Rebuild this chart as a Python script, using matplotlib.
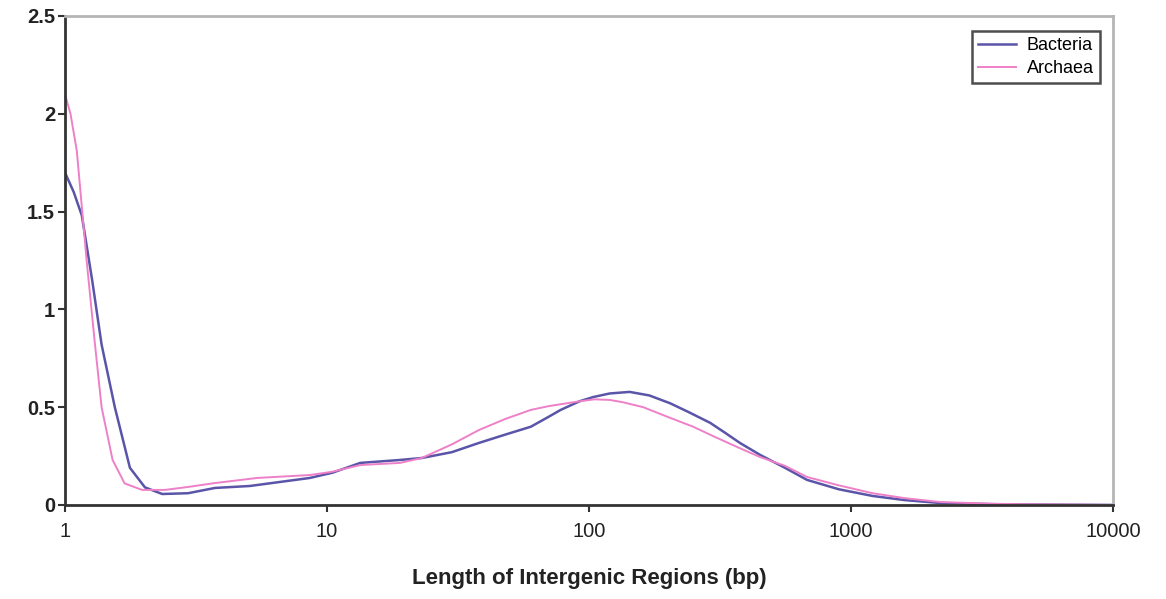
import matplotlib.pyplot as plt
import numpy as np

plt.rcParams['font.family'] = ['Liberation Sans', 'DejaVu Sans']

# Dados
bact_x = [1.0, 1.08, 1.16, 1.27, 1.38, 1.55, 1.77, 2.02, 2.35, 2.95, 3.74, 5.08,
          8.6, 10.5, 13.4, 19, 23, 30, 38, 48, 60, 70, 78, 92, 104, 120, 143,
          170, 204, 240, 290, 330, 377, 450, 560, 680, 900, 1210, 1600, 2190,
          3500, 5000, 10000]
bact_y = [1.70, 1.60, 1.48, 1.15, 0.82, 0.50, 0.19, 0.09, 0.056, 0.06, 0.087,
          0.097, 0.138, 0.165, 0.215, 0.23, 0.24, 0.27, 0.317, 0.36, 0.40, 0.45,
          0.486, 0.53, 0.552, 0.57, 0.578, 0.56, 0.52, 0.475, 0.42, 0.37,
          0.317, 0.256, 0.19, 0.128, 0.08, 0.046, 0.025, 0.01, 0.004, 0.002, 0.0]

arch_x = [1.0, 1.05, 1.11, 1.21, 1.30, 1.38, 1.52, 1.69, 1.97, 2.41, 2.95, 3.74,
          5.41, 8.6, 10.5, 13.4, 19, 23, 30, 38, 48, 60, 70, 78, 92, 105, 120,
          135, 161, 200, 250, 300, 377, 450, 560, 680, 900, 1210, 1600, 2190,
          3500, 5000, 10000]
arch_y = [2.10, 2.00, 1.81, 1.25, 0.83, 0.50, 0.23, 0.11, 0.077, 0.077, 0.092,
          0.112, 0.138, 0.153, 0.17, 0.204, 0.215, 0.24, 0.31, 0.383, 0.44,
          0.486, 0.505, 0.515, 0.53, 0.54, 0.537, 0.525, 0.50, 0.45, 0.40, 0.35,
          0.29, 0.245, 0.20, 0.143, 0.10, 0.06, 0.035, 0.015, 0.006, 0.003, 0.0]

y_ticks = [0, 0.5, 1, 1.5, 2, 2.5]
y_labels = ['0', '0.5', '1', '1.5', '2', '2.5']
x_ticks = [1, 10, 100, 1000, 10000]
x_labels = ['1', '10', '100', '1000', '10000']

fig = plt.figure(figsize=(11.66, 5.99), dpi=100)
ax = fig.add_axes([0.0557, 0.157, 0.8988, 0.8163])

ax.plot(bact_x, bact_y, color='#5a55a8', lw=1.8, label='Bacteria')
ax.plot(arch_x, arch_y, color='#ee80c8', lw=1.4, label='Archaea')

ax.set_xscale('log')
ax.set_xlim(1, 10000)
ax.set_ylim(0, 2.5)
ax.set_xticks(x_ticks)
ax.set_xticklabels(x_labels, fontsize=14.5, color='#222222')
ax.xaxis.set_minor_locator(plt.NullLocator())
ax.set_yticks(y_ticks)
ax.set_yticklabels(y_labels, fontsize=14.5, color='#222222', fontweight='bold')
ax.tick_params(axis='both', direction='out', length=5, width=1.5, color='#333333')
ax.tick_params(axis='x', pad=7)
ax.tick_params(axis='y', pad=2)

for s in ['left', 'bottom']:
    ax.spines[s].set_color('#333333')
    ax.spines[s].set_linewidth(2)
for s in ['top', 'right']:
    ax.spines[s].set_color('#b5b5b5')
    ax.spines[s].set_linewidth(2)

ax.set_xlabel('Length of Intergenic Regions (bp)', fontsize=16,
              fontweight='bold', color='#222222', labelpad=20)

leg = ax.legend(loc='upper right', bbox_to_anchor=(0.9434, 0.948),
                bbox_transform=fig.transFigure, borderaxespad=0,
                fancybox=False, fontsize=13, handlelength=2.1,
                handletextpad=0.6, borderpad=0.35, labelspacing=0.3)
leg.get_frame().set_edgecolor('#222222')
leg.get_frame().set_linewidth(1.8)

fig.savefig('out.png', dpi=100)
